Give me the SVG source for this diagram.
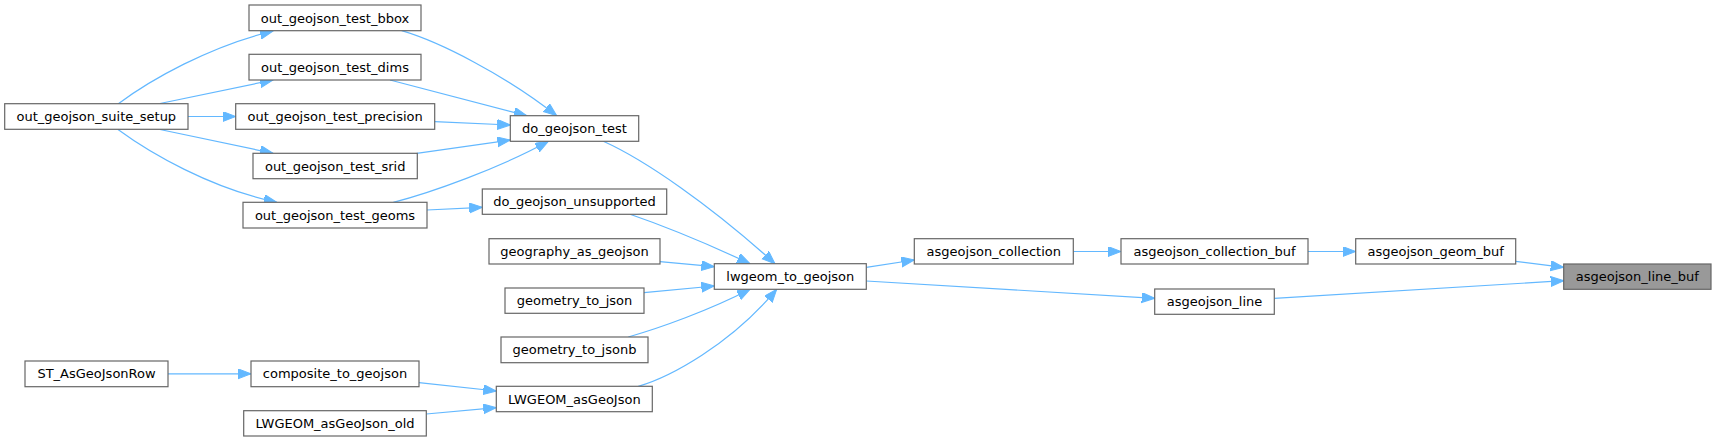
<svg xmlns="http://www.w3.org/2000/svg" width="1716" height="441" viewBox="0 0 1716 441">
<defs>
<style>
.node rect{fill:#ffffff;stroke:#666666;stroke-width:1.2}
.node.hl rect{fill:#999999}
.node text{font-family:"DejaVu Sans","Liberation Sans",sans-serif;font-size:13px;fill:#000000;text-anchor:middle}
.edges path{fill:none;stroke:#63b8ff;stroke-width:1.2}
</style>
<marker id="ah" markerUnits="userSpaceOnUse" markerWidth="14" markerHeight="11" refX="13" refY="5" orient="auto" viewBox="0 0 14 11">
<path d="M0,0 L13,5 L0,10 Z" fill="#63b8ff" stroke="#63b8ff" stroke-width="1"/>
</marker>
</defs>
<rect width="1716" height="441" fill="#ffffff"/>
<g id="edges" class="edges">
<path marker-end="url(#ah)" d="M118,104 C150,80 210,46 273,31"/>
<path marker-end="url(#ah)" d="M160,103.5 L273,80"/>
<path marker-end="url(#ah)" d="M188,116.5 L235.7,116.5"/>
<path marker-end="url(#ah)" d="M160,129.5 L273,153.3"/>
<path marker-end="url(#ah)" d="M118,129.5 C150,153 210,188 276.7,202.3"/>
<path marker-end="url(#ah)" d="M401.7,30.7 C440,42 505,75 556.7,115.7"/>
<path marker-end="url(#ah)" d="M390,80 L526.7,115.7"/>
<path marker-end="url(#ah)" d="M434.7,121.7 L510.3,125"/>
<path marker-end="url(#ah)" d="M416.7,153.3 L510.3,140"/>
<path marker-end="url(#ah)" d="M393.3,202.3 C430,193 500,168 548.3,141.3"/>
<path marker-end="url(#ah)" d="M427,210 L482.3,207.3"/>
<path marker-end="url(#ah)" d="M603.3,141.3 C645,160 710,205 775,263.7"/>
<path marker-end="url(#ah)" d="M630,214.3 C670,228 710,245 750,263.7"/>
<path marker-end="url(#ah)" d="M660,261.7 L714.3,266.7"/>
<path marker-end="url(#ah)" d="M644,292.7 L714.3,286"/>
<path marker-end="url(#ah)" d="M628.3,337 C660,328 710,310 750,289.3"/>
<path marker-end="url(#ah)" d="M638.3,386.3 C670,377 730,345 776.7,289.3"/>
<path marker-end="url(#ah)" d="M168,373.8 L251,373.8"/>
<path marker-end="url(#ah)" d="M419,382.7 L496.3,391"/>
<path marker-end="url(#ah)" d="M426.3,414 L496.3,407.7"/>
<path marker-end="url(#ah)" d="M866.3,267.3 L914.3,260"/>
<path marker-end="url(#ah)" d="M866.3,281 L1154.7,298.3"/>
<path marker-end="url(#ah)" d="M1073.3,251.5 L1121,251.5"/>
<path marker-end="url(#ah)" d="M1308,251.5 L1355.7,251.5"/>
<path marker-end="url(#ah)" d="M1515.7,261.3 L1563.7,267.3"/>
<path marker-end="url(#ah)" d="M1274.3,298.3 L1563.7,280.7"/>
</g>
<g id="n_suite" class="node"><rect x="4.7" y="103.7" width="183.3" height="25.6"/><text x="96.3" y="121">out_geojson_suite_setup</text></g>
<g id="n_bbox" class="node"><rect x="249" y="5" width="172" height="25.7"/><text x="335" y="22.5">out_geojson_test_bbox</text></g>
<g id="n_dims" class="node"><rect x="249" y="54.3" width="172" height="25.7"/><text x="335" y="71.7">out_geojson_test_dims</text></g>
<g id="n_prec" class="node"><rect x="235.7" y="103.7" width="199" height="25.6"/><text x="335.2" y="121">out_geojson_test_precision</text></g>
<g id="n_srid" class="node"><rect x="253" y="153.3" width="164.3" height="25.4"/><text x="335.2" y="170.5">out_geojson_test_srid</text></g>
<g id="n_geoms" class="node"><rect x="243" y="202.3" width="184" height="25.7"/><text x="335" y="219.7">out_geojson_test_geoms</text></g>
<g id="n_st" class="node"><rect x="25" y="361" width="143" height="25.7"/><text x="96.5" y="378.3">ST_AsGeoJsonRow</text></g>
<g id="n_comp" class="node"><rect x="251" y="361" width="168" height="25.7"/><text x="335" y="378.3">composite_to_geojson</text></g>
<g id="n_old" class="node"><rect x="243.7" y="410.7" width="182.6" height="25.3"/><text x="335" y="428">LWGEOM_asGeoJson_old</text></g>
<g id="n_dotest" class="node"><rect x="510.3" y="115.7" width="128.4" height="25.6"/><text x="574.5" y="133">do_geojson_test</text></g>
<g id="n_unsup" class="node"><rect x="482.3" y="189" width="184.4" height="25.3"/><text x="574.5" y="206.2">do_geojson_unsupported</text></g>
<g id="n_geog" class="node"><rect x="489" y="238.7" width="171" height="25.3"/><text x="574.5" y="256">geography_as_geojson</text></g>
<g id="n_gjson" class="node"><rect x="505" y="288" width="139" height="25.3"/><text x="574.5" y="305.3">geometry_to_json</text></g>
<g id="n_gjsonb" class="node"><rect x="501" y="337" width="147" height="25.7"/><text x="574.5" y="354.3">geometry_to_jsonb</text></g>
<g id="n_lwasgj" class="node"><rect x="496.3" y="386.3" width="156" height="25.4"/><text x="574.3" y="403.5">LWGEOM_asGeoJson</text></g>
<g id="n_lwgeom" class="node"><rect x="714.3" y="263.7" width="152" height="25.6"/><text x="790.3" y="281">lwgeom_to_geojson</text></g>
<g id="n_coll" class="node"><rect x="914.3" y="238.7" width="159" height="25.3"/><text x="993.8" y="256">asgeojson_collection</text></g>
<g id="n_collbuf" class="node"><rect x="1121" y="238.7" width="187" height="25.3"/><text x="1214.5" y="256">asgeojson_collection_buf</text></g>
<g id="n_line" class="node"><rect x="1154.7" y="289" width="119.6" height="25.3"/><text x="1214.5" y="306.3">asgeojson_line</text></g>
<g id="n_geombuf" class="node"><rect x="1355.7" y="238.7" width="160" height="25.3"/><text x="1435.7" y="256">asgeojson_geom_buf</text></g>
<g id="n_linebuf" class="node hl"><rect x="1563.7" y="264" width="147.3" height="25.3"/><text x="1637.3" y="281.3">asgeojson_line_buf</text></g>
</svg>
